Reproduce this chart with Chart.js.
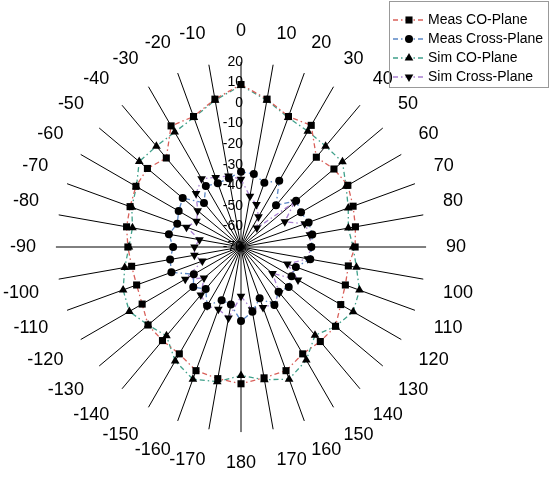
<!DOCTYPE html>
<html>
<head>
<meta charset="utf-8">
<script src="https://cdn.jsdelivr.net/npm/chart.js@4/dist/chart.umd.min.js"></script>
<style>
html,body{margin:0;padding:0;background:#fff;}
</style>
</head>
<body>
<canvas id="mainCanvas" width="552" height="477"></canvas>
<script>
// angle labels, clockwise from the top
var angleLabels = ['0','10','20','30','40','50','60','70','80','90','100','110','120','130','140','150','160','170','180',
  '-170','-160','-150','-140','-130','-120','-110','-100','-90','-80','-70','-60','-50','-40','-30','-20','-10'];
var radialTicks = [-70,-60,-50,-40,-30,-20,-10,0,10,20];

var measCo = [9,3,-2.5,-1.7,-13,-11,-10,-12,-13.5,-14.5,-17,-16,-14,-10,-10,-10,-6,-5.4,-3.5,
  -5,-6,-10,-10.6,-11,-14.5,-16,-16,-15,-13.5,-12.6,-11,-10.6,-13.5,-2,-2.5,3];
var measCross = [-33.4,-34,-36.8,-32.8,-43.5,-35,-36.3,-35,-34.8,-35.8,-35.8,-41.6,-41.6,-39.7,-41.6,-37.5,-43.5,-38,-34,
  -41.6,-42.5,-37,-43.3,-39.7,-43.5,-34,-35,-37,-34.4,-37,-35,-33,-42,-35.8,-37,-36];
var simCo = [8.5,2.5,-3,-5,-6,-5.6,-11,-14.5,-17,-15.5,-13,-8.7,-7,-10,-14,-6.5,-1.6,-4.5,-7.5,
  -3.5,-1.6,-6,-13.6,-11,-7.3,-9,-12.6,-15.5,-16.4,-13.5,-11.3,-5.4,-6,-5.5,-3,2.5];
var simCross = [-37,-45,-48,-53,-58,-36,-45.4,-37,-36,-36,-37,-46,-38,-50,-41,-38,-38.7,-39,-46,
  -35,-37.8,-37,-39.6,-46.5,-38.7,-50,-47,-47.4,-49.5,-41.8,-45,-42.5,-36,-31.7,-34,-35];

var fontFam = '"Liberation Sans", Arial, sans-serif';
var dashDot = [5,3,1.5,3];

function series(label, data, color, style, radius, rot){
  return {
    label: label,
    data: data,
    borderColor: color,
    borderWidth: 1.3,
    borderDash: dashDot,
    fill: false,
    pointStyle: style,
    pointRadius: radius,
    pointRotation: rot || 0,
    pointBackgroundColor: '#000',
    pointBorderColor: '#000',
    pointBorderWidth: 0
  };
}

var tickText = {
  id: 'tickText',
  beforeDatasetsDraw: function(chart){
    var s = chart.scales.r, ctx = chart.ctx;
    ctx.save();
    ctx.fillStyle = '#000';
    ctx.font = '14px ' + fontFam;
    ctx.textAlign = 'right';
    ctx.textBaseline = 'middle';
    radialTicks.forEach(function(v){
      ctx.fillText(String(v), s.xCenter + 2, s.yCenter - s.getDistanceFromCenterForValue(v));
    });
    ctx.restore();
  }
};

var legendBox = {
  id: 'legendBox',
  afterDraw: function(chart){
    var ctx = chart.ctx;
    ctx.save();
    ctx.strokeStyle = '#999';
    ctx.lineWidth = 1;
    ctx.strokeRect(389.5, 1.5, 159, 86);
    chart.data.datasets.forEach(function(ds, i){
      var y = 20 + i * 19;
      ctx.strokeStyle = ds.borderColor;
      ctx.lineWidth = 1.3;
      ctx.setLineDash(dashDot);
      ctx.beginPath(); ctx.moveTo(393, y); ctx.lineTo(425, y); ctx.stroke();
      ctx.setLineDash([]);
      ctx.fillStyle = '#000';
      Chart.helpers.drawPoint(ctx, {pointStyle: ds.pointStyle, radius: ds.pointRadius, rotation: ds.pointRotation, borderWidth: 0}, 409, y);
      ctx.font = '14px ' + fontFam;
      ctx.textAlign = 'left';
      ctx.textBaseline = 'middle';
      ctx.fillText(ds.label, 428, y);
    });
    ctx.restore();
  }
};

var ctx = document.getElementById('mainCanvas').getContext('2d');
var chart = new Chart(ctx, {
  type: 'radar',
  data: {
    labels: angleLabels,
    datasets: [
      series('Meas CO-Plane', measCo, '#d9605a', 'rect', 5),
      series('Meas Cross-Plane', measCross, '#5a86c5', 'circle', 4),
      series('Sim CO-Plane', simCo, '#3fa08a', 'triangle', 5),
      series('Sim Cross-Plane', simCross, '#a87fd0', 'triangle', 5, 180)
    ]
  },
  options: {
    responsive: false,
    animation: false,
    layout: {padding: {left: -5, right: 75, top: 19, bottom: -3}},
    plugins: {legend: {display: false}, tooltip: {enabled: false}},
    scales: {
      r: {
        min: -70,
        max: 20,
        ticks: {display: false, stepSize: 10},
        grid: {display: false},
        angleLines: {color: '#000', lineWidth: 1},
        pointLabels: {color: '#000', padding: 20, font: {family: fontFam, size: 18}}
      }
    }
  },
  plugins: [tickText, legendBox]
});
</script>
</body>
</html>
